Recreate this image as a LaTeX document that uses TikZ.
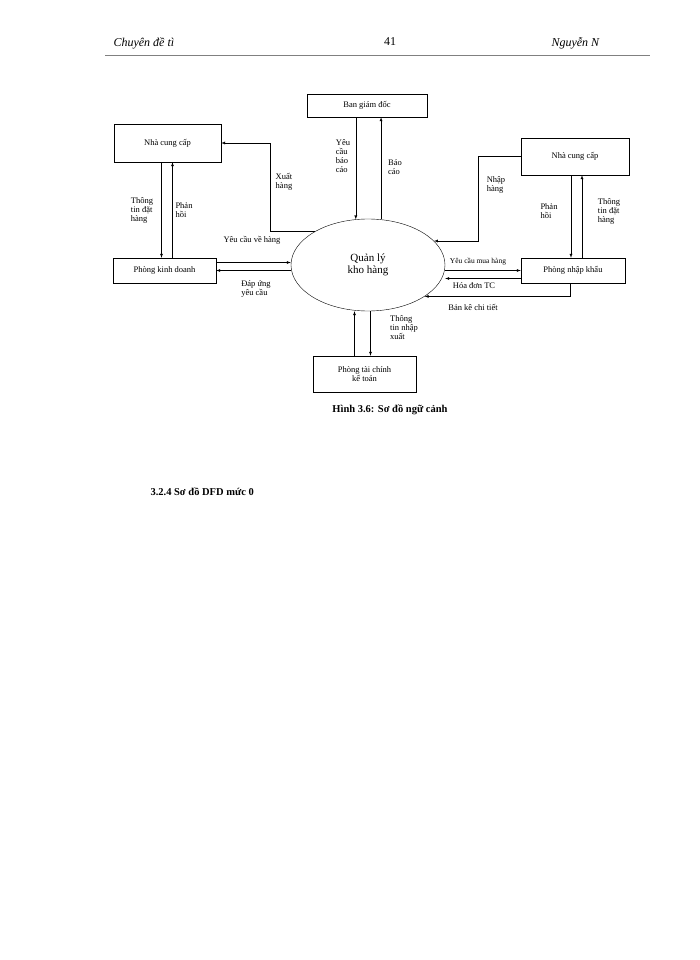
\documentclass[tikz,border=0pt]{standalone}
\usepackage{fontspec}
\setmainfont{Liberation Serif}
\usetikzlibrary{shapes.geometric}
\begin{document}
\begin{tikzpicture}[x=1pt,y=-1pt,>=latex,
  box/.style={draw,inner sep=0pt,font=\fontsize{8.5}{9.5}\selectfont,align=center},
  lbl/.style={font=\fontsize{8.5}{9}\selectfont,align=left,inner sep=0pt},
  flow/.style={->,thin}]

\useasboundingbox[fill=white] (0,0) rectangle (700,960);

% header
\node[font=\itshape\fontsize{12}{13}\selectfont,anchor=west] (hl) at (110,43) {Chuyên đề tì};
\node[font=\fontsize{12}{13}\selectfont] (hp) at (390,42) {41};
\node[font=\itshape\fontsize{12}{13}\selectfont,anchor=west] (hr) at (548,43) {Nguyễn N};
\draw[gray] (105,55) -- (650,55);

% boxes
\node[box,minimum width=120,minimum height=23] (bgd) at (367,105.5) {Ban giám đốc};
\node[box,minimum width=107,minimum height=38] (nccl) at (167.5,143) {Nhà cung cấp};
\node[box,minimum width=108,minimum height=37] (nccr) at (575,156.5) {Nhà cung cấp};
\node[box,minimum width=103,minimum height=25] (pkd) at (164.5,270.5) {Phòng kinh doanh};
\node[box,minimum width=104,minimum height=25] (pnk) at (573,270.5) {Phòng nhập khẩu};
\node[box,minimum width=103,minimum height=36] (ptc) at (364.5,374) {Phòng tài chính\\kế toán};
\node[draw,ellipse,minimum width=154,minimum height=92,inner sep=0pt,
  font=\fontsize{11}{12}\selectfont,align=center] (ell) at (368,265) {Quản lý\\kho hàng};

% flows top
\draw[flow] (bgd.south -| ell.105) -- (ell.105);
\draw[flow] (ell.74) -- (bgd.south -| ell.74);
\node[lbl] (ycbc) at (343,156) {Yêu\\cầu\\báo\\cáo};
\node[lbl] (bc) at (395,167) {Báo\\cáo};

% left supplier
\coordinate (xh1) at (ell.148 -| 270,0);
\coordinate (xh2) at (nccl.east -| 270,0);
\draw[flow] (ell.148) -- (xh1) -- (xh2) -- (nccl.east);
\node[lbl] (xh) at (284,182) {Xuất\\hàng};
\draw[flow] ([xshift=-6]nccl.south) -- ([xshift=-6]nccl.south |- pkd.north);
\draw[flow] ([xshift=5]nccl.south |- pkd.north) -- ([xshift=5]nccl.south);
\node[lbl] (ttl) at (142,210) {Thông\\tin đặt\\hàng};
\node[lbl] (phl) at (184,210) {Phản\\hồi};

% sales dept
\draw[flow] ([yshift=8]pkd.east) -- ([yshift=8]pkd.east -| ell.west);
\draw[flow] (pkd.east -| ell.west) -- (pkd.east);
\node[lbl] (ycvh) at (252,240) {Yêu cầu về hàng};
\node[lbl] (du) at (256,289) {Đáp ứng\\yêu cầu};

% right supplier
\coordinate (nh1) at (nccr.west -| 478,0);
\coordinate (nh2) at (ell.20 -| 478,0);
\draw[flow] (nccr.west) -- (nh1) -- (nh2) -- (ell.20);
\node[lbl] (nh) at (496,185) {Nhập\\hàng};
\draw[flow] ([xshift=-4]nccr.south) -- ([xshift=-4]nccr.south |- pnk.north);
\draw[flow] ([xshift=7]nccr.south |- pnk.north) -- ([xshift=7]nccr.south);
\node[lbl] (phr) at (549,211) {Phản\\hồi};
\node[lbl] (ttr) at (609,211) {Thông\\tin đặt\\hàng};

% import dept
\draw[flow] (pnk.west -| ell.east) -- (pnk.west);
\draw[flow] ([yshift=-8]pnk.west) -- ([yshift=-8]pnk.west -| ell.east);
\node[lbl,font=\fontsize{7.5}{8}\selectfont] (ycmh) at (478,262) {Yêu cầu mua hàng};
\node[lbl] (hd) at (474,286) {Hóa đơn TC};
\coordinate (bk1) at ([xshift=-3]pnk.south |- ell.-29);
\draw[flow] ([xshift=-3]pnk.south) -- (bk1) -- (ell.-29);
\node[lbl] (bk) at (473,307) {Bản kê chi tiết};

% finance dept
\draw[flow] ([xshift=-10]ptc.north) -- ([xshift=-10]ptc.north |- ell.south);
\draw[flow] ([xshift=6]ptc.north |- ell.south) -- ([xshift=6]ptc.north);
\node[lbl] (ttnx) at (404,328) {Thông\\tin nhập\\xuất};

% captions
\node[font=\bfseries\fontsize{10.5}{11}\selectfont] (cap) at (390,410) {Hình 3.6: Sơ đồ ngữ cảnh};
\node[font=\bfseries\fontsize{10.5}{11}\selectfont,anchor=west] (sec) at (147,492) {3.2.4 Sơ đồ DFD mức 0};
\end{tikzpicture}
\end{document}
